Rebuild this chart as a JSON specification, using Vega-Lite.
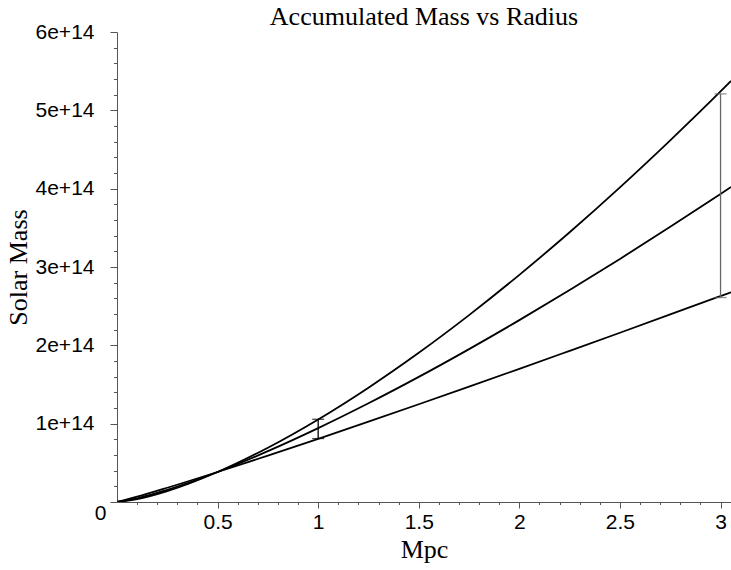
{
  "$schema": "https://vega.github.io/schema/vega-lite/v6.json",
  "width": 614,
  "height": 470,
  "autosize": {"type": "none"},
  "padding": {"left": 117, "top": 32, "right": 0, "bottom": 68},
  "background": "white",
  "config": {"view": {"stroke": null}},
  "title": {"text": "Accumulated Mass vs Radius", "font": "Liberation Serif", "fontSize": 26, "fontWeight": "normal", "color": "black", "anchor": "middle", "offset": -9},
  "datasets": {
    "curves": [
      {"x": 0, "y": 0, "s": "a"}, {"x": 0.1, "y": 3.66e12, "s": "a"}, {"x": 0.25, "y": 1.39e13, "s": "a"}, {"x": 0.5, "y": 3.83e13, "s": "a"}, {"x": 0.75, "y": 6.93e13, "s": "a"}, {"x": 1, "y": 1.054e14, "s": "a"}, {"x": 1.25, "y": 1.46e14, "s": "a"}, {"x": 1.5, "y": 1.905e14, "s": "a"}, {"x": 1.75, "y": 2.386e14, "s": "a"}, {"x": 2, "y": 2.9e14, "s": "a"}, {"x": 2.25, "y": 3.444e14, "s": "a"}, {"x": 2.5, "y": 4.017e14, "s": "a"}, {"x": 2.75, "y": 4.617e14, "s": "a"}, {"x": 3, "y": 5.241e14, "s": "a"}, {"x": 3.052, "y": 5.375e14, "s": "a"},
      {"x": 0, "y": 0, "s": "b"}, {"x": 0.1, "y": 4.7e12, "s": "b"}, {"x": 0.25, "y": 1.56e13, "s": "b"}, {"x": 0.5, "y": 3.83e13, "s": "b"}, {"x": 0.75, "y": 6.49e13, "s": "b"}, {"x": 1, "y": 9.43e13, "s": "b"}, {"x": 1.25, "y": 1.26e14, "s": "b"}, {"x": 1.5, "y": 1.597e14, "s": "b"}, {"x": 1.75, "y": 1.952e14, "s": "b"}, {"x": 2, "y": 2.322e14, "s": "b"}, {"x": 2.25, "y": 2.706e14, "s": "b"}, {"x": 2.5, "y": 3.103e14, "s": "b"}, {"x": 2.75, "y": 3.513e14, "s": "b"}, {"x": 3, "y": 3.933e14, "s": "b"}, {"x": 3.052, "y": 4.022e14, "s": "b"},
      {"x": 0, "y": 0, "s": "c"}, {"x": 0.1, "y": 6.8e12, "s": "c"}, {"x": 0.25, "y": 1.82e13, "s": "c"}, {"x": 0.5, "y": 3.83e13, "s": "c"}, {"x": 0.75, "y": 5.92e13, "s": "c"}, {"x": 1, "y": 8.07e13, "s": "c"}, {"x": 1.25, "y": 1.026e14, "s": "c"}, {"x": 1.5, "y": 1.248e14, "s": "c"}, {"x": 1.75, "y": 1.473e14, "s": "c"}, {"x": 2, "y": 1.7e14, "s": "c"}, {"x": 2.25, "y": 1.93e14, "s": "c"}, {"x": 2.5, "y": 2.161e14, "s": "c"}, {"x": 2.75, "y": 2.394e14, "s": "c"}, {"x": 3, "y": 2.629e14, "s": "c"}, {"x": 3.052, "y": 2.678e14, "s": "c"}
    ],
    "bars": [
      {"x": 1, "lo": 8.1e13, "hi": 1.056e14},
      {"x": 3, "lo": 2.61e14, "hi": 5.21e14}
    ]
  },
  "layer": [
    {
      "data": {"name": "curves"},
      "mark": {"type": "line", "color": "black", "strokeWidth": 1.8, "interpolate": "monotone", "clip": true},
      "encoding": {
        "x": {
          "field": "x", "type": "quantitative",
          "scale": {"domain": [0, 3.052], "nice": false, "zero": false},
          "axis": {
            "title": "Mpc",
            "titleFont": "Liberation Serif", "titleFontSize": 26, "titleFontWeight": "normal", "titleColor": "black", "titlePadding": 4,
            "values": [0.1, 0.2, 0.3, 0.4, 0.5, 0.6, 0.7, 0.8, 0.9, 1, 1.1, 1.2, 1.3, 1.4, 1.5, 1.6, 1.7, 1.8, 1.9, 2, 2.1, 2.2, 2.3, 2.4, 2.5, 2.6, 2.7, 2.8, 2.9, 3],
            "tickCount": 200,
            "format": ".1~f",
            "labelExpr": "abs(datum.value*2-round(datum.value*2))<0.000001 ? datum.label : ''",
            "labelFont": "Liberation Sans", "labelFontSize": 21, "labelColor": "black",
            "labelPadding": 3, "labelFlush": false, "labelOverlap": false,
            "tickSize": {"condition": {"test": "abs(datum.value*2-round(datum.value*2))<0.000001", "value": 6}, "value": 2.5},
            "tickColor": "#555", "domainColor": "#555", "grid": false
          }
        },
        "y": {
          "field": "y", "type": "quantitative",
          "scale": {"domain": [0, 600000000000000], "nice": false},
          "axis": {
            "title": "Solar Mass",
            "titleFont": "Liberation Serif", "titleFontSize": 26, "titleFontWeight": "normal", "titleColor": "black", "titlePadding": 4,
            "values": [0, 20000000000000, 40000000000000, 60000000000000, 80000000000000, 100000000000000, 120000000000000, 140000000000000, 160000000000000, 180000000000000, 200000000000000, 220000000000000, 240000000000000, 260000000000000, 280000000000000, 300000000000000, 320000000000000, 340000000000000, 360000000000000, 380000000000000, 400000000000000, 420000000000000, 440000000000000, 460000000000000, 480000000000000, 500000000000000, 520000000000000, 540000000000000, 560000000000000, 580000000000000, 600000000000000],
            "tickCount": 200,
            "labelExpr": "datum.value == 0 ? '0' : (datum.value % 100000000000000 == 0 ? (datum.value/100000000000000) + 'e+14' : '')",
            "labelFont": "Liberation Sans", "labelFontSize": 21, "labelColor": "black",
            "labelPadding": {"condition": {"test": "datum.value == 0", "value": 4}, "value": 16},
            "labelOffset": {"condition": {"test": "datum.value == 0", "value": 11}, "value": 0},
            "labelFlush": false, "labelOverlap": false,
            "tickSize": {"condition": {"test": "datum.value % 100000000000000 == 0", "value": 7}, "value": 3.5},
            "tickColor": "#555", "domainColor": "#555", "grid": false
          }
        },
        "detail": {"field": "s", "type": "nominal"}
      }
    },
    {
      "data": {"name": "bars"},
      "mark": {"type": "rule", "strokeWidth": 1.3},
      "encoding": {
        "x": {"field": "x", "type": "quantitative"},
        "y": {"field": "lo", "type": "quantitative"},
        "y2": {"field": "hi"},
        "color": {"condition": {"test": "datum.x == 3", "value": "#666"}, "value": "black"}
      }
    },
    {
      "data": {"name": "bars"},
      "mark": {"type": "tick", "orient": "horizontal", "size": 12, "thickness": 1.3},
      "encoding": {
        "x": {"field": "x", "type": "quantitative"},
        "y": {"field": "lo", "type": "quantitative"},
        "color": {"condition": {"test": "datum.x == 3", "value": "#666"}, "value": "black"}
      }
    },
    {
      "data": {"name": "bars"},
      "mark": {"type": "tick", "orient": "horizontal", "size": 12, "thickness": 1.3},
      "encoding": {
        "x": {"field": "x", "type": "quantitative"},
        "y": {"field": "hi", "type": "quantitative"},
        "color": {"condition": {"test": "datum.x == 3", "value": "#666"}, "value": "black"}
      }
    },
    {
      "mark": {"type": "rule", "color": "#555", "strokeWidth": 1},
      "encoding": {"y": {"datum": 600000000000000, "type": "quantitative"}}
    }
  ]
}
